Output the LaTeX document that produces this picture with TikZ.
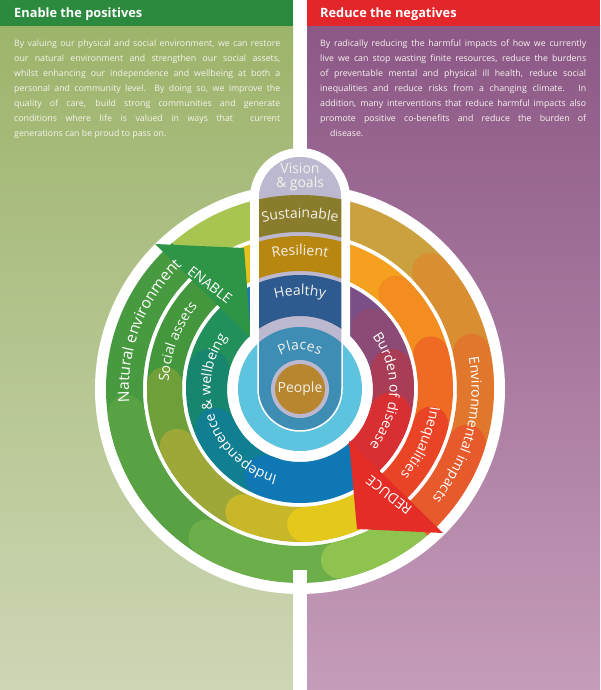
\documentclass[tikz,border=0pt]{standalone}
\usepackage{fontspec}
\setmainfont{Open Sans}
\usetikzlibrary{decorations.text}

\definecolor{hdrgreen}{HTML}{2B8A3E}
\definecolor{hdrred}{HTML}{E3262A}
\definecolor{lgtop}{HTML}{9DB46B}
\definecolor{lgmid}{HTML}{B3BA8D}
\definecolor{lgbot}{HTML}{CDD6B5}
\definecolor{rptop}{HTML}{8C5886}
\definecolor{rpmid}{HTML}{A06C98}
\definecolor{rpbot}{HTML}{C59CB9}
\definecolor{pillarc}{HTML}{BCB8CF}
\definecolor{sustc}{HTML}{8A7C2D}
\definecolor{resic}{HTML}{B8870F}
\definecolor{healc}{HTML}{2D5B90}
\definecolor{placc}{HTML}{3E8DB4}
\definecolor{discc}{HTML}{5EC3DE}
\definecolor{peopc}{HTML}{B8862F}
\definecolor{enablec}{HTML}{2E9546}
\definecolor{reducec}{HTML}{E42D27}
\definecolor{lbltext}{HTML}{F4F1EA}
\definecolor{paratext}{HTML}{F6F4EE}

\newcommand\ringfont{\fontsize{14}{14}\selectfont}
\newcommand\bigringfont{\fontsize{15.5}{15.5}\selectfont}
\newcommand\lblfont{\fontsize{14}{14}\selectfont}
\newcommand\parafont{\fontsize{8.8}{15}\selectfont}
\newcommand\jl[1]{\makebox[266pt][s]{#1}\\}
\newcommand\rseg[6]{%
  \definecolor{segc}{HTML}{#5}%
  \draw[line width=#2pt, line cap=#6, draw=segc] (#3:#1) arc[start angle=#3, end angle=#4, radius=#1];}

\begin{document}
\begin{tikzpicture}[x=1pt,y=1pt]
\useasboundingbox (0,0) rectangle (600,690);
\fill[white] (0,0) rectangle (600,690);
% panels
\shade[top color=lgtop, middle color=lgmid, bottom color=lgbot] (0,0) rectangle (293,664);
\shade[top color=rptop, middle color=rpmid, bottom color=rpbot] (307,0) rectangle (600,664);
\fill[hdrgreen] (0,664) rectangle (293,690);
\fill[hdrred] (307,664) rectangle (600,690);
\node[anchor=base west, inner sep=0, text=white, font=\fontsize{12.8}{14}\bfseries\selectfont] (hleft) at (14,672) {Enable the positives};
\node[anchor=base west, inner sep=0, text=white, font=\fontsize{12.8}{14}\bfseries\selectfont] (hright) at (320,672) {Reduce the negatives};
\node[anchor=base west, inner sep=0, text=paratext, font=\parafont] (pleft) at (14,643.5) {\parbox[t]{266pt}{\parafont
\jl{By valuing our physical and social environment, we can restore}
\jl{our natural environment and strengthen our social assets,}
\jl{whilst enhancing our independence and wellbeing at both a}
\jl{personal and community level.\ \ By doing so, we improve the}
\jl{quality of care, build strong communities and generate}
\jl{conditions where life is valued in ways that\ \ current}
generations can be proud to pass on.}};
\node[anchor=base west, inner sep=0, text=paratext, font=\parafont] (pright) at (320,643.5) {\parbox[t]{267pt}{\parafont
\jl{By radically reducing the harmful impacts of how we currently}
\jl{live we can stop wasting finite resources, reduce the burdens}
\jl{of preventable mental and physical ill health, reduce social}
\jl{inequalities and reduce risks from a changing climate. In}
\jl{addition, many interventions that reduce harmful impacts also}
\jl{promote positive co-benefits and reduce the burden of}
\hspace*{10pt}disease.}};

% wheel
\begin{scope}[shift={(300,301)}]
\fill[white] (0,0) circle[radius=205];
% enable side
\begin{scope}
\clip (0,0) -- (94:260) arc[start angle=94, end angle=315, radius=260] -- cycle;
\rseg{175.5}{37}{94}{131}{A8C552}{butt}
\rseg{175.5}{37}{131}{200}{489A41}{butt}
\rseg{175.5}{37}{188}{245}{58A243}{round}
\rseg{175.5}{37}{238}{292}{6CAE49}{round}
\rseg{175.5}{37}{283}{330}{8EC350}{round}
\rseg{135.5}{35}{94}{131}{E5C11E}{butt}
\rseg{135.5}{35}{131}{190}{44973D}{butt}
\rseg{135.5}{35}{178}{222}{6E9F39}{round}
\rseg{135.5}{35}{205}{250}{9DA839}{round}
\rseg{135.5}{35}{245}{285}{C9B72A}{round}
\rseg{135.5}{35}{272}{330}{E4C81C}{round}
\rseg{93.5}{41}{94}{131}{1E78B4}{butt}
\rseg{93.5}{41}{131}{180}{22905A}{butt}
\rseg{93.5}{41}{168}{215}{18866F}{round}
\rseg{93.5}{41}{205}{252}{117F92}{round}
\rseg{93.5}{41}{248}{330}{0F77B4}{round}
\end{scope}
% reduce side
\begin{scope}
\clip (0,0) -- (311:260) arc[start angle=311, end angle=446, radius=260] -- cycle;
\rseg{175.5}{37}{30}{86}{CBA13F}{butt}
\rseg{175.5}{37}{-2}{42}{D98F31}{round}
\rseg{175.5}{37}{-28}{12}{E0772C}{round}
\rseg{175.5}{37}{-52}{-18}{E65A2C}{round}
\rseg{135.5}{35}{35}{86}{F5A11F}{butt}
\rseg{135.5}{35}{5}{45}{F38D20}{round}
\rseg{135.5}{35}{-25}{15}{EF6A22}{round}
\rseg{135.5}{35}{-52}{-15}{EA4427}{round}
\rseg{93.5}{41}{30}{86}{7A4F88}{butt}
\rseg{93.5}{41}{2}{40}{8C4A76}{round}
\rseg{93.5}{41}{-25}{12}{AA3D56}{round}
\rseg{93.5}{41}{-52}{-15}{D83032}{round}
\end{scope}
\end{scope}

% arrowheads
\fill[enablec] (155,446) -- (244,442) -- (251,352) -- cycle;
\fill[reducec] (443,157) -- (357,161) -- (349,249) -- cycle;

% pillar
\fill[white] (250,492) arc[start angle=180, end angle=0, radius=50] -- (350,301) arc[start angle=0, end angle=-180, radius=50] -- cycle;
\fill[white] (293,0) rectangle (307,120);
\fill[discc] (300,301) circle[radius=62];
\fill[pillarc] (258,492) arc[start angle=180, end angle=0, radius=42] -- (342,301) arc[start angle=0, end angle=-180, radius=42] -- cycle;
\begin{scope}
\clip (258,492) arc[start angle=180, end angle=0, radius=42] -- (342,301) arc[start angle=0, end angle=-180, radius=42] -- cycle;
\draw[line width=37pt, sustc] (300,301) circle[radius=175.5];
\draw[line width=35pt, resic] (300,301) circle[radius=135.5];
\draw[line width=41pt, healc] (300,301) circle[radius=93.5];
\fill[placc] (300,301) circle[radius=62];
\end{scope}
\draw[white, line width=1.5pt] (258,492) arc[start angle=180, end angle=0, radius=42] -- (342,301) arc[start angle=0, end angle=-180, radius=42] -- cycle;
\fill[pillarc] (300,301) circle[radius=29];
\fill[peopc] (300,301) circle[radius=25];

% pillar labels
\node[anchor=base, inner sep=0, text=lbltext, font=\lblfont] (vision) at (300,516) {Vision};
\node[anchor=base, inner sep=0, text=lbltext, font=\lblfont] (goals) at (300,502) {\& goals};
\node[inner sep=0, text=lbltext, font=\lblfont] (people) at (300,301) {People};
\begin{scope}[shift={(300,301)}]
\path[decorate, decoration={text along path, text align=center, text={|\lblfont\color{lbltext}|Sustainable}}] (130:171) arc[start angle=130, end angle=50, radius=171];
\path[decorate, decoration={text along path, text align=center, text={|\lblfont\color{lbltext}|Resilient}}] (130:134) arc[start angle=130, end angle=50, radius=134];
\path[decorate, decoration={text along path, text align=center, text={|\lblfont\color{lbltext}|Healthy}}] (135:94) arc[start angle=135, end angle=45, radius=94];
\path[decorate, decoration={text along path, text align=center, text={|\lblfont\color{lbltext}|Places}}] (150:39) arc[start angle=150, end angle=30, radius=39];
% ring labels
\path[decorate, decoration={text along path, text align=center, text={|\bigringfont\color{white}|Natural environment}}] (215:171) arc[start angle=215, end angle=103, radius=171];
\path[decorate, decoration={text along path, text align=center, text={|\ringfont\color{white}|Social assets}}] (205:131.5) arc[start angle=205, end angle=113, radius=131.5];
\path[decorate, decoration={text along path, text align=center, text={|\ringfont\color{white}|Independence {\&} wellbeing}}] (275:89.5) arc[start angle=275, end angle=125, radius=89.5];
\path[decorate, decoration={text along path, text align=center, text={|\ringfont\color{white}|Burden of disease}}] (62:89.5) arc[start angle=62, end angle=-65, radius=89.5];
\path[decorate, decoration={text along path, text align=center, text={|\ringfont\color{white}|Inequalities}}] (26:131.5) arc[start angle=26, end angle=-74, radius=131.5];
\path[decorate, decoration={text along path, text align=center, text={|\ringfont\color{white}|Environmental impacts}}] (35:171.5) arc[start angle=35, end angle=-64, radius=171.5];
\end{scope}
\node[rotate=-38, inner sep=0, text=white, font=\ringfont] (enable) at (210,405) {ENABLE};
\node[rotate=142, inner sep=0, text=white, font=\ringfont] (reduce) at (389,195) {REDUCE};
\end{tikzpicture}
\end{document}
